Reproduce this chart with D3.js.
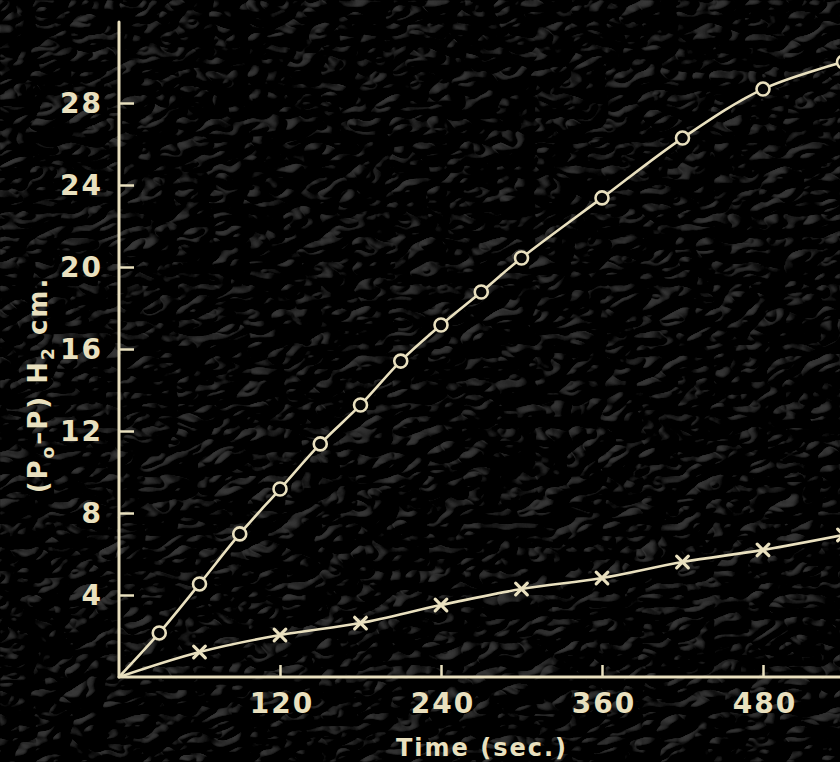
<!DOCTYPE html>
<html>
<head>
<meta charset="utf-8">
<script src="https://cdn.jsdelivr.net/npm/d3@7"></script>
<style>
  html, body { margin: 0; padding: 0; background: #000; }
  svg { display: block; }
</style>
</head>
<body>
<div id="chart"></div>
<script>
(function() {
    'use strict';

    // data
    var circleTimes = [0, 30, 60, 90, 120, 150, 180, 210, 240, 270, 300, 360, 420, 480, 540];
    var circleValues = [0, 2.15, 4.54, 6.98, 9.17, 11.37, 13.27, 15.41, 17.17, 18.78, 20.44, 23.37, 26.29, 28.68, 30.0];

    var crossTimes = [0, 60, 120, 180, 240, 300, 360, 420, 480, 540];
    var crossValues = [0, 1.22, 2.05, 2.63, 3.51, 4.29, 4.83, 5.61, 6.2, 6.93];

    var xTicks = [120, 240, 360, 480];
    var yTicks = [4, 8, 12, 16, 20, 24, 28];

    var width = 840,
        height = 762,
        ink = '#e9e0bf',
        font = '"DejaVu Sans", sans-serif';

    var x = d3.scaleLinear().domain([0, 480]).range([119, 763]);
    var y = d3.scaleLinear().domain([0, 28]).range([677, 103]);

    var svg = d3.select('#chart').append('svg')
        .attr('width', width)
        .attr('height', height);

    /* + background texture */
    var defs = svg.append('defs');
    var f = defs.append('filter')
        .attr('id', 'leather')
        .attr('filterUnits', 'userSpaceOnUse')
        .attr('color-interpolation-filters', 'sRGB')
        .attr('x', 0).attr('y', 0)
        .attr('width', width).attr('height', height);
    f.append('feTurbulence')
        .attr('type', 'turbulence')
        .attr('baseFrequency', '0.028 0.042')
        .attr('numOctaves', 2)
        .attr('seed', 11)
        .attr('result', 'noise');
    var light = f.append('feDiffuseLighting')
        .attr('in', 'noise')
        .attr('surfaceScale', 12)
        .attr('diffuseConstant', 1)
        .attr('lighting-color', '#505050')
        .attr('result', 'lit');
    light.append('feDistantLight')
        .attr('azimuth', 235)
        .attr('elevation', 25);
    var ct = f.append('feComponentTransfer').attr('in', 'lit');
    ['feFuncR', 'feFuncG', 'feFuncB'].forEach(function(n) {
        ct.append(n).attr('type', 'linear').attr('slope', 1.9).attr('intercept', -0.38);
    });

    svg.append('rect')
        .attr('width', width)
        .attr('height', height)
        .attr('fill', '#000');
    svg.append('rect')
        .attr('width', width)
        .attr('height', height)
        .attr('fill', '#000')
        .attr('filter', 'url(#leather)');

    defs.append('clipPath').attr('id', 'plot')
        .append('rect')
        .attr('x', 0).attr('y', 0)
        .attr('width', width).attr('height', height);

    /* + axes */
    var axes = svg.append('g')
        .attr('stroke', ink)
        .attr('stroke-width', 3)
        .attr('stroke-linecap', 'round');

    axes.append('line')
        .attr('x1', x(0)).attr('x2', x(0))
        .attr('y1', 22).attr('y2', y(0));
    axes.append('line')
        .attr('x1', x(0)).attr('x2', width)
        .attr('y1', y(0)).attr('y2', y(0));

    // y ticks point inward
    var yAxis = d3.axisRight(y).tickValues(yTicks).tickSize(15).tickFormat('');
    svg.append('g')
        .attr('transform', 'translate(' + x(0) + ',0)')
        .call(yAxis)
        .call(function(g) {
            g.select('.domain').remove();
            g.selectAll('.tick line').attr('stroke', ink).attr('stroke-width', 2.5);
        });

    var xAxis = d3.axisTop(x).tickValues(xTicks).tickSize(12).tickFormat('');
    svg.append('g')
        .attr('transform', 'translate(0,' + y(0) + ')')
        .call(xAxis)
        .call(function(g) {
            g.select('.domain').remove();
            g.selectAll('.tick line').attr('stroke', ink).attr('stroke-width', 2.5);
        });

    // tick labels
    svg.append('g').selectAll('text')
        .data(yTicks)
        .join('text')
        .attr('x', 103)
        .attr('y', function(d) { return y(d); })
        .attr('dy', '0.36em')
        .attr('text-anchor', 'end')
        .attr('fill', ink)
        .attr('font-family', font)
        .attr('font-size', 28)
        .attr('font-weight', 'bold')
        .attr('letter-spacing', 2)
        .text(function(d) { return d; });

    svg.append('g').selectAll('text')
        .data(xTicks)
        .join('text')
        .attr('x', function(d) { return x(d) + 2; })
        .attr('y', y(0) + 36)
        .attr('text-anchor', 'middle')
        .attr('fill', ink)
        .attr('font-family', font)
        .attr('font-size', 28)
        .attr('font-weight', 'bold')
        .attr('letter-spacing', 2)
        .text(function(d) { return d; });

    // axis titles
    svg.append('text')
        .attr('x', 482)
        .attr('y', 756)
        .attr('text-anchor', 'middle')
        .attr('fill', ink)
        .attr('font-family', font)
        .attr('font-size', 24)
        .attr('font-weight', 'bold')
        .attr('letter-spacing', 2)
        .text('Time (sec.)');

    var yt = svg.append('text')
        .attr('transform', 'translate(47,385) rotate(-90)')
        .attr('text-anchor', 'middle')
        .attr('fill', ink)
        .attr('font-family', font)
        .attr('font-size', 26)
        .attr('font-weight', 'bold')
        .attr('letter-spacing', 2);
    yt.append('tspan').text('(P');
    yt.append('tspan').attr('font-size', 17).attr('dy', 7).text('o');
    yt.append('tspan').attr('dy', -7).text('\u2013P) H');
    yt.append('tspan').attr('font-size', 17).attr('dy', 7).text('2');
    yt.append('tspan').attr('dy', -7).text(' cm.');

    /* + curves */
    var line = d3.line()
        .x(function(d) { return x(d[0]); })
        .y(function(d) { return y(d[1]); })
        .curve(d3.curveCatmullRom.alpha(0.5));

    var circlePts = d3.zip(circleTimes, circleValues);
    var crossPts = d3.zip(crossTimes, crossValues);

    var plot = svg.append('g').attr('clip-path', 'url(#plot)');

    plot.append('path')
        .datum(circlePts)
        .attr('d', line)
        .attr('fill', 'none')
        .attr('stroke', ink)
        .attr('stroke-width', 2.6);

    plot.append('path')
        .datum(crossPts)
        .attr('d', line)
        .attr('fill', 'none')
        .attr('stroke', ink)
        .attr('stroke-width', 2.6);

    // markers (skip the origin)
    plot.append('g').selectAll('circle')
        .data(circlePts.slice(1))
        .join('circle')
        .attr('cx', function(d) { return x(d[0]); })
        .attr('cy', function(d) { return y(d[1]); })
        .attr('r', 6.5)
        .attr('fill', '#050505')
        .attr('stroke', ink)
        .attr('stroke-width', 2.6);

    var cross = d3.symbol().type(d3.symbolX).size(90);
    plot.append('g').selectAll('path')
        .data(crossPts.slice(1))
        .join('path')
        .attr('transform', function(d) { return 'translate(' + x(d[0]) + ',' + y(d[1]) + ')'; })
        .attr('d', cross)
        .attr('fill', 'none')
        .attr('stroke', ink)
        .attr('stroke-width', 3.2)
        .attr('stroke-linecap', 'round');

})();
</script>
</body>
</html>
